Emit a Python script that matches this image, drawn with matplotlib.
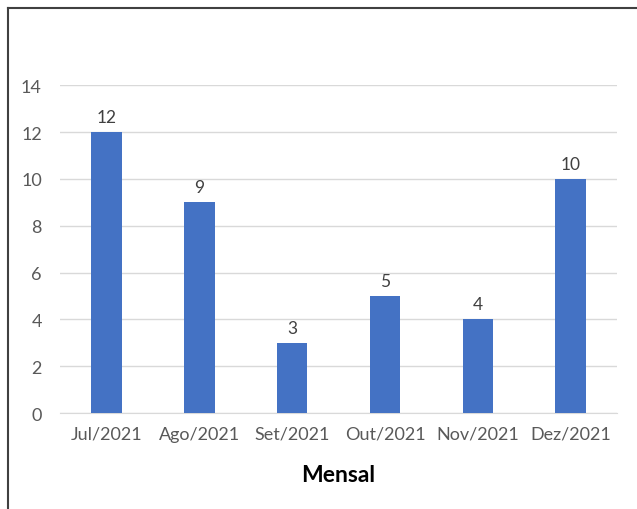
import matplotlib
matplotlib.use("Agg")
import matplotlib.pyplot as plt
from matplotlib.lines import Line2D

# --- Data ---
meses = ['Jul/2021', 'Ago/2021', 'Set/2021', 'Out/2021', 'Nov/2021', 'Dez/2021']
valores = [12, 9, 3, 5, 4, 10]
y_ticks = [0, 2, 4, 6, 8, 10, 12, 14]

plt.rcParams['font.family'] = ['Lato', 'DejaVu Sans']

fig = plt.figure(figsize=(6.37, 5.10), dpi=100)
ax = fig.add_axes([0.094, 0.188, 0.875, 0.643])

bars = ax.bar(range(len(meses)), valores, width=0.33, color='#4472C4', zorder=3)
for b, v in zip(bars, valores):
    ax.annotate(str(v), (b.get_x() + b.get_width() / 2, v), xytext=(0, 5),
                textcoords='offset points', ha='center', va='bottom',
                fontsize=12.5, color='#404040')

ax.set_ylim(0, 14)
ax.set_xlim(-0.5, len(meses) - 0.5)
ax.set_yticks(y_ticks)
ax.set_xticks(range(len(meses)))
ax.set_xticklabels(meses)
ax.tick_params(axis='both', length=0, labelsize=13, labelcolor='#595959')
ax.tick_params(axis='y', pad=13)
ax.tick_params(axis='x', pad=9)
ax.grid(axis='y', color='#D9D9D9', linewidth=1, zorder=0)
for s in ['top', 'right', 'left']:
    ax.spines[s].set_visible(False)
ax.spines['bottom'].set_color('#D9D9D9')
ax.set_xlabel('Mensal', fontsize=16.5, fontweight='bold', color='black', labelpad=16)

# outer frame (left and top edges)
fig.add_artist(Line2D([8 / 637, 8 / 637], [0, 1 - 9 / 510], transform=fig.transFigure,
                      color='#404040', linewidth=1.5))
fig.add_artist(Line2D([8 / 637, 1], [1 - 9 / 510, 1 - 9 / 510], transform=fig.transFigure,
                      color='#404040', linewidth=1.5))

fig.savefig('out.png', dpi=100)
